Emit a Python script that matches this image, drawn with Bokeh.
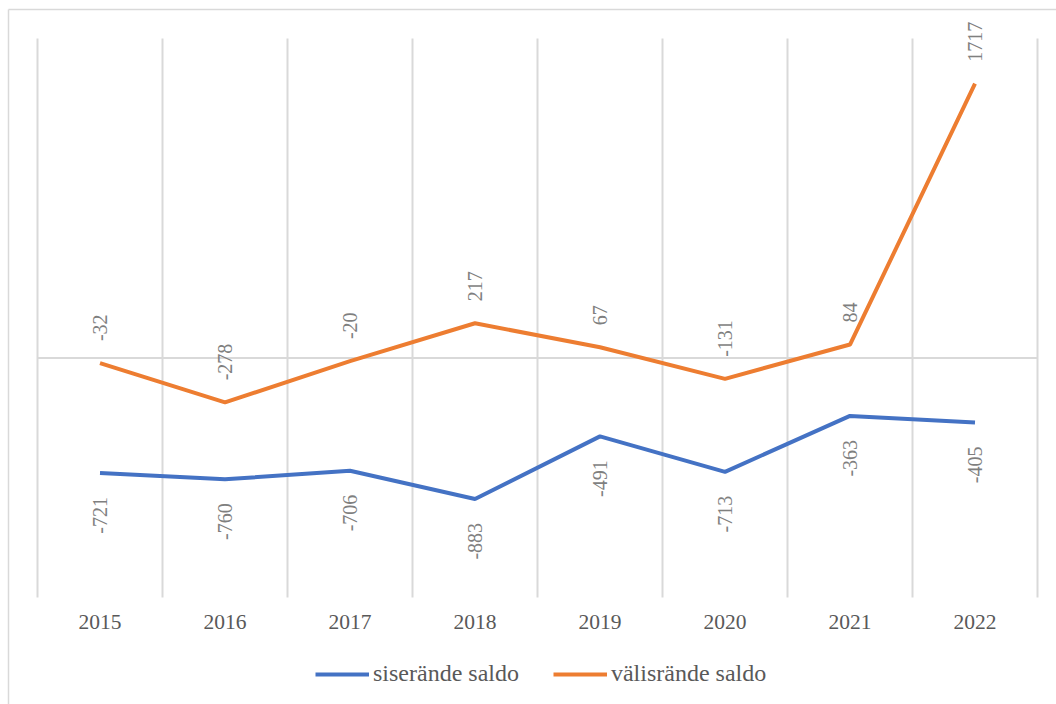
import numpy as np
from bokeh.plotting import figure
from bokeh.models import ColumnDataSource, FixedTicker, Legend, LegendItem
from bokeh.core.properties import value
from bokeh.embed import file_html
from bokeh.resources import INLINE

years = ["2015", "2016", "2017", "2018", "2019", "2020", "2021", "2022"]
siserande_saldo = [-721, -760, -706, -883, -491, -713, -363, -405]
valisrande_saldo = [-32, -278, -20, 217, 67, -131, 84, 1717]
y_min, y_max = -1500, 2000

BLUE = "#4472C4"
ORANGE = "#ED7D31"
GRID = "#d9d9d9"
FONT = "Liberation Serif"

W, H = 1056, 704
n = len(years)
xs = [i + 0.5 for i in range(n)]
src = ColumnDataSource(dict(
    x=xs,
    sis=siserande_saldo,
    val=valisrande_saldo,
    sis_t=[str(v) for v in siserande_saldo],
    val_t=[str(v) for v in valisrande_saldo],
))

# layout in pixels: plot area from x=37..1037, y=38..597
cat_px = 125.0
ppu = 559.0 / (y_max - y_min)
x_start = -37 / cat_px
x_end = n + (W - 1037) / cat_px
y_top = y_max + 38 / ppu
y_bot = y_min - (H - 597) / ppu

def px_x(px):
    return x_start + px / cat_px

def px_y(py):
    return y_top - py / ppu

p = figure(width=W, height=H, x_range=(x_start, x_end), y_range=(y_bot, y_top),
           output_backend="svg", toolbar_location=None,
           min_border=0, min_border_left=0, min_border_right=0,
           min_border_top=0, min_border_bottom=0)
p.outline_line_color = None
p.yaxis.visible = False
p.ygrid.visible = False
p.xgrid.visible = False

# chart border (top and left edges)
p.segment(x0=[px_x(8), px_x(8)], x1=[px_x(W + 10), px_x(8)],
          y0=[px_y(9), px_y(9)], y1=[px_y(9), px_y(H + 10)],
          line_color=GRID, line_width=1.5)

# vertical category gridlines and zero line
bounds = list(range(n + 1))
p.segment(x0=bounds, x1=bounds, y0=[y_min] * len(bounds), y1=[y_max] * len(bounds),
          line_color=GRID, line_width=2)
p.segment(x0=[0], x1=[n], y0=[0], y1=[0], line_color=GRID, line_width=2)

p.xaxis.fixed_location = y_min
p.xaxis.ticker = FixedTicker(ticks=xs)
p.xaxis.major_label_overrides = {x: y for x, y in zip(xs, years)}
p.xaxis.axis_line_color = None
p.xaxis.major_tick_line_color = None
p.xaxis.minor_tick_line_color = None
p.xaxis.major_tick_out = 0
p.xaxis.major_tick_in = 0
p.xaxis.major_label_standoff = 17
p.xaxis.major_label_text_font = FONT
p.xaxis.major_label_text_font_size = "21.5px"
p.xaxis.major_label_text_color = "#595959"

r1 = p.line("x", "sis", source=src, line_color=BLUE, line_width=4)
r2 = p.line("x", "val", source=src, line_color=ORANGE, line_width=4)

p.text("x", "val", text="val_t", source=src, angle=np.pi / 2, text_align="left",
       text_baseline="middle", y_offset=-22, text_font=value(FONT),
       text_font_size="20px", text_color="#7f7f7f")
p.text("x", "sis", text="sis_t", source=src, angle=np.pi / 2, text_align="right",
       text_baseline="middle", y_offset=24, text_font=value(FONT),
       text_font_size="20px", text_color="#7f7f7f")

legend = Legend(items=[LegendItem(label="siserände saldo", renderers=[r1]),
                       LegendItem(label="välisrände saldo", renderers=[r2])],
                orientation="horizontal", location=(315, 17),
                label_text_font=FONT, label_text_font_size="24px",
                label_text_color="#595959", border_line_color=None,
                background_fill_alpha=0,
                glyph_width=54, glyph_height=20,
                label_standoff=4, spacing=34, padding=0, margin=0)
p.add_layout(legend, "center")

open("out.html", "w").write(file_html(p, INLINE))
